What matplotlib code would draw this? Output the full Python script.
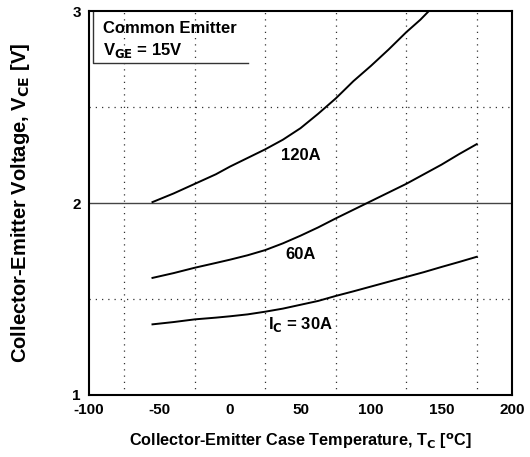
import matplotlib.pyplot as plt

plt.rcParams['font.family'] = ['Liberation Sans', 'DejaVu Sans']
plt.rcParams['font.weight'] = 'bold'
plt.rcParams['axes.labelweight'] = 'bold'
plt.rcParams['mathtext.default'] = 'bf'
plt.rcParams['axes.unicode_minus'] = False

temp = [-55, -40, -25, -10, 0, 12.5, 25, 37.5, 50, 62.5, 75, 87.5, 100,
        112.5, 125, 137.5, 150, 162.5, 175]
v_30a = [1.368, 1.38, 1.394, 1.403, 1.41, 1.42, 1.434, 1.45, 1.47, 1.49,
         1.516, 1.54, 1.565, 1.59, 1.615, 1.64, 1.667, 1.693, 1.72]
v_60a = [1.61, 1.635, 1.663, 1.688, 1.705, 1.728, 1.755, 1.79, 1.83, 1.873,
         1.92, 1.965, 2.01, 2.055, 2.10, 2.15, 2.20, 2.255, 2.307]
temp_120 = [-55, -40, -25, -10, 0, 12.5, 25, 37.5, 50, 62.5, 75, 87.5, 100,
            112.5, 125, 135, 141]
v_120a = [2.005, 2.05, 2.10, 2.15, 2.19, 2.235, 2.28, 2.33, 2.39, 2.465,
          2.545, 2.635, 2.715, 2.80, 2.89, 2.955, 3.0]

xticks = [-100, -50, 0, 50, 100, 150, 200]
yticks = [1, 2, 3]

fig = plt.figure(figsize=(5.3, 4.57), dpi=100)
ax = fig.add_axes([0.168, 0.1357, 0.798, 0.840])

# dotted grid in between the labelled ticks
for gx in [-75, -25, 25, 75, 125, 175]:
    ax.axvline(gx, color='#333333', lw=0.9, ls=(0, (1, 4)))
for gy in [1.5, 2.5]:
    ax.axhline(gy, color='#333333', lw=0.9, ls=(0, (1, 4)))
ax.axhline(2, color='#444444', lw=1.0)

ax.plot(temp, v_30a, color='black', lw=1.4)
ax.plot(temp, v_60a, color='black', lw=1.4)
ax.plot(temp_120, v_120a, color='black', lw=1.4)

ax.text(50, 2.25, '120A', ha='center', va='center', fontsize=12)
ax.text(50, 1.73, '60A', ha='center', va='center', fontsize=12)
ax.text(50, 1.365, 'I$_C$ = 30A', ha='center', va='center', fontsize=12)

# legend-like box in the corner
ax.plot([-97.2, -97.2, 12.8], [2.995, 2.729, 2.729], color='#333333', lw=1.0)
ax.text(-90.3, 2.91, 'Common Emitter', ha='left', va='center', fontsize=12)
ax.text(-90.3, 2.797, 'V$_{GE}$ = 15V', ha='left', va='center', fontsize=12)

ax.set_xlim(-100, 200)
ax.set_ylim(1, 3)
ax.set_xticks(xticks)
ax.set_yticks(yticks)
ax.tick_params(length=0, labelsize=11, pad=6)
for s in ax.spines.values():
    s.set_linewidth(1.5)

ax.set_xlabel('Collector-Emitter Case Temperature, T$_C$ [$^o$C]', fontsize=11.7, labelpad=10)
ax.set_ylabel('Collector-Emitter Voltage, V$_{CE}$ [V]', fontsize=14.5)
ax.yaxis.set_label_coords(-0.135, 0.5)

plt.savefig('out.png')
